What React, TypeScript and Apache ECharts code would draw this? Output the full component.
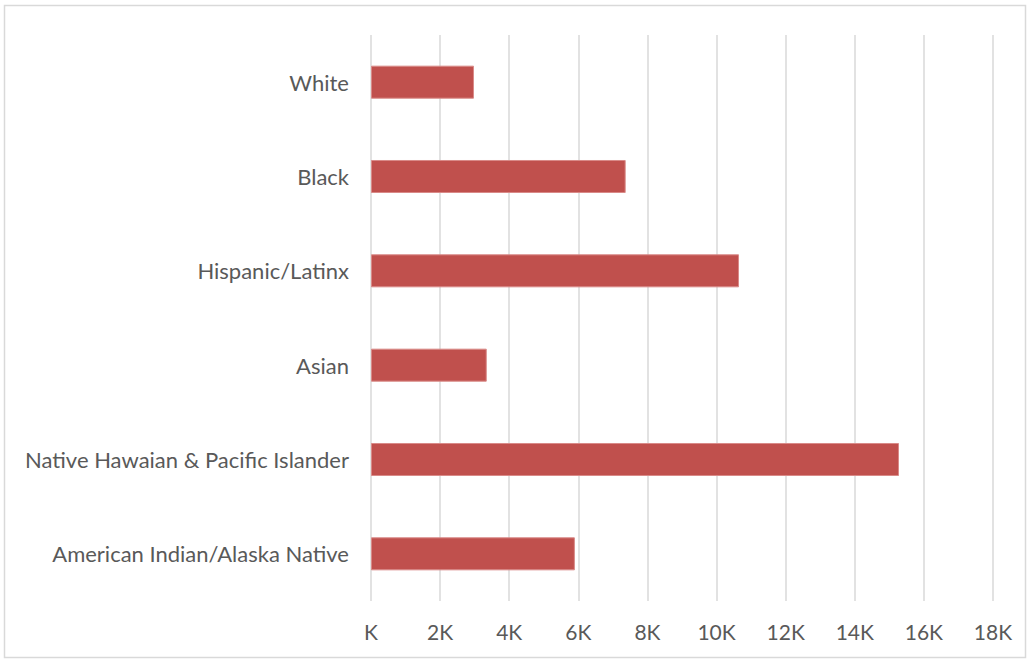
import React, { useEffect, useRef } from "react";
import * as echarts from "echarts";

const categories = [
  "White",
  "Black",
  "Hispanic/Latinx",
  "Asian",
  "Native Hawaian & Pacific Islander",
  "American Indian/Alaska Native",
];
const values = [2980, 7370, 10650, 3350, 15280, 5900];
const xMin = 0;
const xMax = 18000;
const xStep = 2000;

export default function App() {
  const ref = useRef<HTMLDivElement>(null);
  useEffect(() => {
    if (!ref.current) return;
    const chart = echarts.init(ref.current, null, { renderer: "svg" });
    chart.setOption({
      animation: false,
      backgroundColor: "#ffffff",
      graphic: [
        {
          type: "rect",
          shape: { x: 4.5, y: 5.5, width: 1021, height: 652 },
          style: { fill: "none", stroke: "#d9d9d9", lineWidth: 1.5 },
          silent: true,
        },
      ],
      grid: { left: 371, right: 36, top: 35, bottom: 59 },
      xAxis: {
        type: "value",
        min: xMin,
        max: xMax,
        interval: xStep,
        axisLine: { show: false },
        axisTick: { show: false },
        splitLine: { show: true, lineStyle: { color: "#d9d9d9", width: 1.5 } },
        axisLabel: {
          color: "#595959",
          fontFamily: "Lato",
          fontSize: 21,
          margin: 20,
          formatter: (v: number) => (v === 0 ? "K" : v / 1000 + "K"),
        },
      },
      yAxis: {
        type: "category",
        data: categories,
        inverse: true,
        axisLine: { show: false },
        axisTick: { show: false },
        splitLine: { show: false },
        axisLabel: {
          color: "#595959",
          fontFamily: "Lato",
          fontSize: 22,
          margin: 22,
        },
      },
      series: [
        {
          type: "bar",
          data: values,
          barWidth: "35%",
          itemStyle: { color: "#c0504d", borderColor: "#d98a88", borderWidth: 1 },
        },
      ],
    });
    return () => chart.dispose();
  }, []);
  return (
    <div
      ref={ref}
      style={{ position: "fixed", left: 0, top: 0, width: 1029, height: 660 }}
    />
  );
}
